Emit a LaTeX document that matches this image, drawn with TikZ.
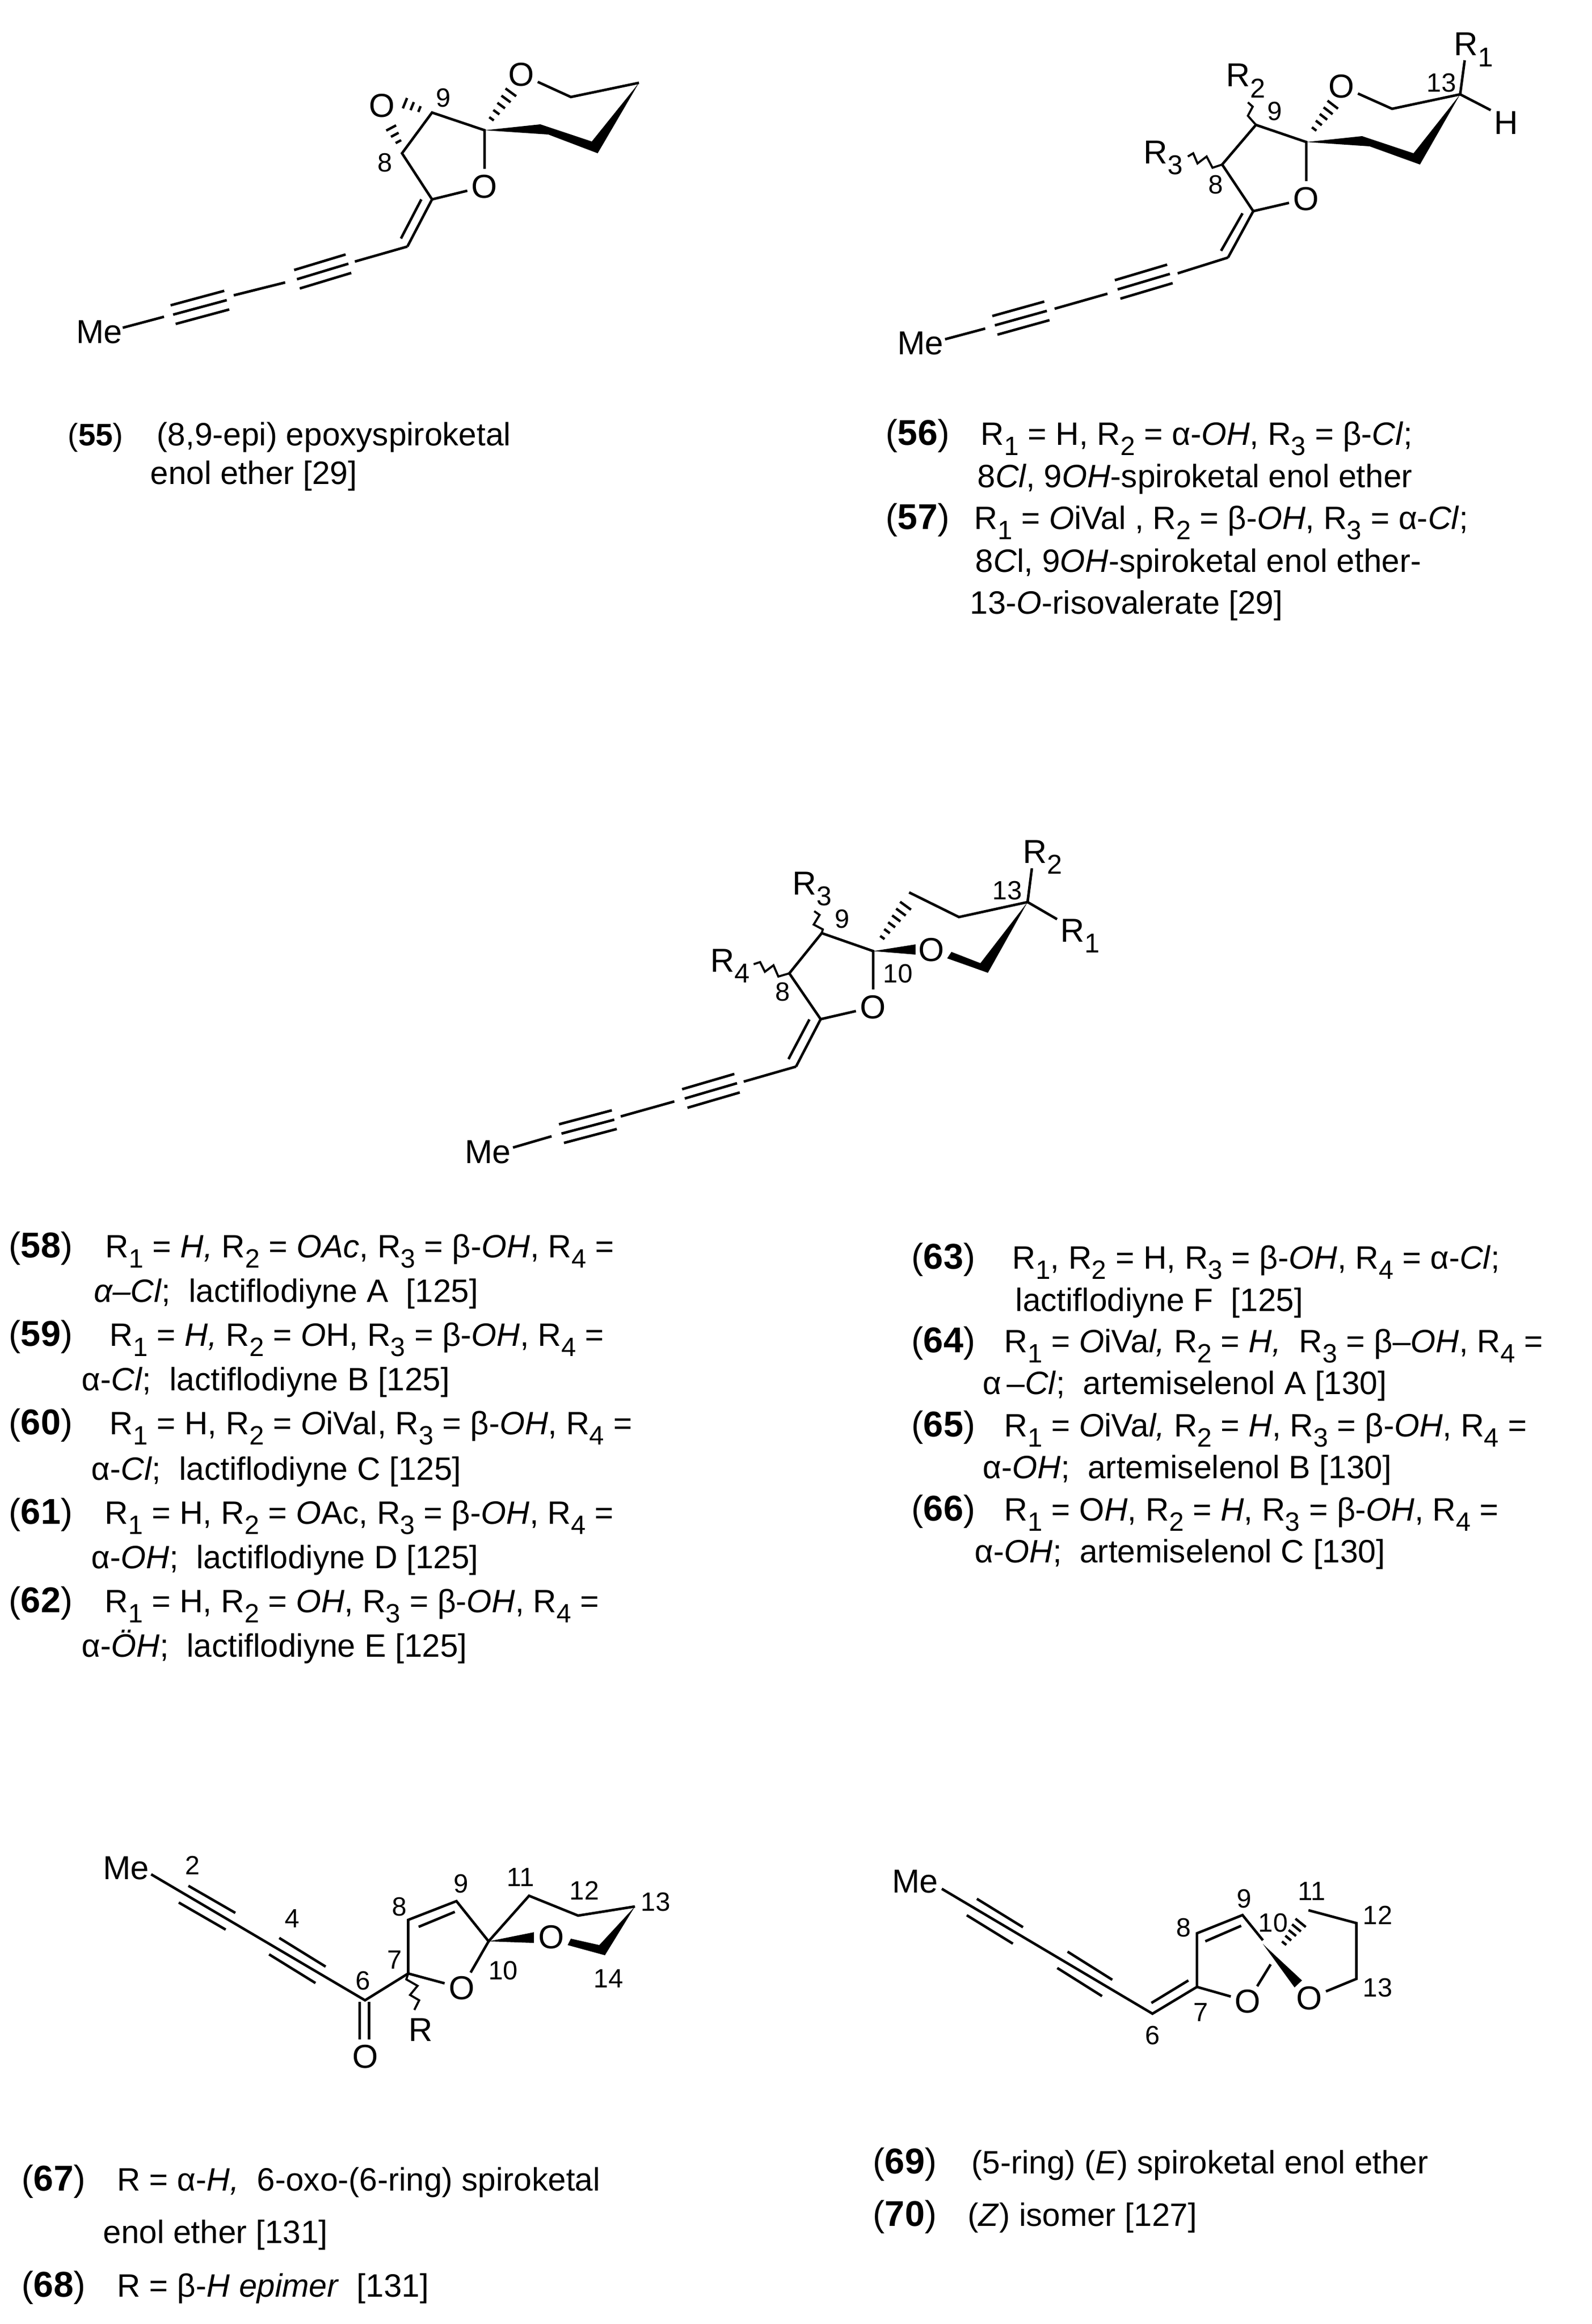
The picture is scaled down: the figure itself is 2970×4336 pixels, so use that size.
\documentclass[tikz,border=0pt]{standalone}
\usepackage{fontspec}
\setmainfont{Liberation Sans}
\usetikzlibrary{calc}
\makeatletter
\newcommand\sbs[1]{\raisebox{-.33em}{\fontsize{\the\dimexpr.82\dimexpr\f@size pt\relax\relax}{0pt}\selectfont #1}}
\makeatother
\newcommand\ii[1]{\textit{#1}}
\tikzset{
  x=0.01cm,y=-0.01cm,
  bond/.style={line width=1.35pt,black},
  hashline/.style={line width=1.3pt,black},
  solid fill/.style={fill=black,draw=none},
  atom/.style={circle,inner sep=0pt,font=\fontsize{17.6}{20}\selectfont},
  glabel/.style={inner sep=0pt,font=\fontsize{17.6}{20}\selectfont},
  rlabel/.style={inner sep=0pt,anchor=base west,font=\fontsize{17.6}{20}\selectfont},
  numlabel/.style={inner sep=0pt,font=\fontsize{14}{16}\selectfont},
  captiontext/.style={inner sep=0pt,anchor=base west,font=\fontsize{17.15}{20}\selectfont},
  captionlabel/.style={inner sep=0pt,anchor=base west,font=\fontsize{19}{22}\selectfont},
  captionsmall/.style={inner sep=0pt,anchor=base west,font=\fontsize{16.5}{20}\selectfont},
}
% triple bond with a central line
\newcommand\tbond[2]{\draw[bond] (#1)--(#2) ($(#1)!.18cm!90:(#2)$)--($(#2)!.18cm!-90:(#1)$) ($(#1)!.18cm!-90:(#2)$)--($(#2)!.18cm!90:(#1)$);}
% the two outer lines only
\newcommand\obond[2]{\draw[bond] ($(#1)!.18cm!90:(#2)$)--($(#2)!.18cm!-90:(#1)$) ($(#1)!.18cm!-90:(#2)$)--($(#2)!.18cm!90:(#1)$);}
% hashed wedge: from, to, strokes, half width at the far end (pt)
\newcommand\hashb[4]{\foreach \i in {1,...,#3}{\pgfmathsetmacro\tfrac{\i/#3}\pgfmathsetmacro\wfrac{1+\tfrac*#4}\coordinate (hh) at ($(#1)!\tfrac!(#2)$);\draw[hashline] ($(hh)!\wfrac pt!90:(#2)$) -- ($(hh)!\wfrac pt!-90:(#2)$);}}
\begin{document}
\begin{tikzpicture}
\useasboundingbox (0,0) rectangle (2970,4336);
\fill[white] (0,0) rectangle (2970,4336);

%%%%%%%%%% 55
\coordinate (a-me) at (229,611.5);\coordinate (a-b0) at (306,591);
\coordinate (a-t1a) at (323,587);\coordinate (a-t1b) at (423,560);
\coordinate (a-b1) at (436,551);\coordinate (a-b2) at (532,527);
\coordinate (a-t2a) at (554,521);\coordinate (a-t2b) at (650,492);
\coordinate (a-b3) at (662,488);\coordinate (a-c6) at (760,460);
\coordinate (a-c7) at (806,372);\coordinate (a-i1) at (748,445);\coordinate (a-i2) at (786,372);
\coordinate (a-c8) at (750,286);\coordinate (a-c9) at (806,210);\coordinate (a-c10) at (904,243);
\coordinate (a-r1) at (1065,181);\coordinate (a-r2) at (1192,154.5);
\node[glabel] (a-metxt) at (185,620) {Me};
\node[atom] (a-o1) at (904,348) {O};
\node[atom] (a-oe) at (713,197) {O};
\node[atom] (a-o2) at (973,139) {O};
\node[numlabel] (a-n9) at (827,183) {9};
\node[numlabel] (a-n8) at (718,304) {8};
\draw[bond] (a-me)--(a-b0) (a-b1)--(a-b2) (a-b3)--(a-c6);
\tbond{a-t1a}{a-t1b}\tbond{a-t2a}{a-t2b}
\draw[bond] (a-c6)--(a-c7) (a-i1)--(a-i2);
\draw[bond] (a-o1)--(a-c7)--(a-c8)--(a-c9)--(a-c10)--(a-o1);
\draw[bond] (a-o2)--(a-r1)--(a-r2);
\coordinate (a-h1) at (750,277);\coordinate (a-h2) at (723,226);
\coordinate (a-h3) at (796,209);\coordinate (a-h4) at (742,187);
\coordinate (a-h5) at (908,234);\coordinate (a-h6) at (962,160);
\hashb{a-h1}{a-h2}{4}{2.6}\hashb{a-h3}{a-h4}{4}{2.6}\hashb{a-h5}{a-h6}{6}{3}
\fill[solid fill] (a-c10) -- (1008,232) -- (1104,264) -- (a-r2) -- (1115,286) -- (1023,251) -- cycle;

%%%%%%%%%% 56
\coordinate (b-me) at (1763,633);\coordinate (b-b0) at (1838,613);
\coordinate (b-t1a) at (1856,607);\coordinate (b-t1b) at (1953,580);
\coordinate (b-b1) at (1967.5,576);\coordinate (b-b2) at (2066,548);
\coordinate (b-t2a) at (2085,540);\coordinate (b-t2b) at (2182.5,511);
\coordinate (b-b3) at (2197,510);\coordinate (b-c6) at (2291,480.5);
\coordinate (b-c7) at (2338,394);\coordinate (b-i1) at (2278,468);\coordinate (b-i2) at (2318,398);
\coordinate (b-c8) at (2280,307);\coordinate (b-c9) at (2343,233);\coordinate (b-c10) at (2437,265);
\coordinate (b-r1) at (2597,203);\coordinate (b-c13) at (2724,176);
\coordinate (b-r1e) at (2732.5,112.5);\coordinate (b-he) at (2781,205.5);
\node[glabel] (b-metxt) at (1717,641) {Me};
\node[atom] (b-o1) at (2437,371) {O};
\node[atom] (b-o2) at (2503,161) {O};
\node[rlabel] (b-R1) at (2712,104) {R\sbs{1}};
\node[rlabel] (b-R2) at (2287,162) {R\sbs{2}};
\node[rlabel] (b-R3) at (2133,305) {R\sbs{3}};
\node[glabel] (b-H) at (2810,229) {H};
\node[numlabel] (b-n13) at (2689,155) {13};
\node[numlabel] (b-n9) at (2378,208) {9};
\node[numlabel] (b-n8) at (2268,345) {8};
\draw[bond] (b-me)--(b-b0) (b-b1)--(b-b2) (b-b3)--(b-c6);
\tbond{b-t1a}{b-t1b}\tbond{b-t2a}{b-t2b}
\draw[bond] (b-c6)--(b-c7) (b-i1)--(b-i2);
\draw[bond] (b-o1)--(b-c7)--(b-c8)--(b-c9)--(b-c10)--(b-o1);
\draw[bond] (b-o2)--(b-r1)--(b-c13);
\draw[bond] (b-c13)--(b-r1e) (b-c13)--(b-he);
\draw[bond,line width=1.1pt] (b-c9)--(2328,216)--(2337,199)--(2328,191);
\draw[bond,line width=1.1pt] (b-c8)--(2262,313)--(2251,292)--(2234,305)--(2226,286)--(2216,292);
\coordinate (b-h5) at (2443,252);\coordinate (b-h6) at (2495,184);
\hashb{b-h5}{b-h6}{6}{3}
\fill[solid fill] (b-c10) -- (2541,254) -- (2637,286) -- (b-c13) -- (2649,307) -- (2555,273) -- cycle;

%%%%%%%%%% 58
\coordinate (c-me) at (957,2141);\coordinate (c-b0) at (1029,2120);
\coordinate (c-t1a) at (1047.5,2115);\coordinate (c-t1b) at (1146,2089);
\coordinate (c-b1) at (1158,2083);\coordinate (c-b2) at (1258,2055);
\coordinate (c-t2a) at (1277.5,2049.5);\coordinate (c-t2b) at (1375,2021);
\coordinate (c-b3) at (1387.5,2018);\coordinate (c-c6) at (1485,1990);
\coordinate (c-c7) at (1531,1901.5);\coordinate (c-i1) at (1471,1976);\coordinate (c-i2) at (1510,1902);
\coordinate (c-c8) at (1472.5,1816);\coordinate (c-c9) at (1533,1741);\coordinate (c-c10) at (1629,1774.5);
\coordinate (c-c11) at (1696,1665);\coordinate (c-c12) at (1789,1711);\coordinate (c-c13) at (1917,1683);
\coordinate (c-r2e) at (1925,1620);\coordinate (c-r1e) at (1972,1715);
\node[glabel] (c-metxt) at (910,2149) {Me};
\node[atom] (c-o1) at (1629,1879) {O};
\node[atom] (c-o2) at (1737.5,1772) {O};
\node[rlabel] (c-R2) at (1908,1610) {R\sbs{2}};
\node[rlabel] (c-R1) at (1978,1757) {R\sbs{1}};
\node[rlabel] (c-R3) at (1478,1669) {R\sbs{3}};
\node[rlabel] (c-R4) at (1325,1813) {R\sbs{4}};
\node[numlabel] (c-n13) at (1879,1662) {13};
\node[numlabel] (c-n9) at (1571,1715) {9};
\node[numlabel] (c-n10) at (1675,1817) {10};
\node[numlabel] (c-n8) at (1460,1851) {8};
\draw[bond] (c-me)--(c-b0) (c-b1)--(c-b2) (c-b3)--(c-c6);
\tbond{c-t1a}{c-t1b}\tbond{c-t2a}{c-t2b}
\draw[bond] (c-c6)--(c-c7) (c-i1)--(c-i2);
\draw[bond] (c-o1)--(c-c7)--(c-c8)--(c-c9)--(c-c10)--(c-o1);
\draw[bond] (c-c11)--(c-c12)--(c-c13);
\draw[bond] (c-c13)--(c-r2e) (c-c13)--(c-r1e);
\draw[bond,line width=1.1pt] (c-c9)--(1535,1734)--(1518,1725)--(1529,1707)--(1519,1700);
\draw[bond,line width=1.1pt] (c-c8)--(1452,1822)--(1443,1801)--(1427,1813)--(1418,1795)--(1406,1799);
\coordinate (c-h5) at (1637.5,1761);\coordinate (c-h6) at (1698,1678);
\hashb{c-h5}{c-h6}{7}{3}
\fill[solid fill] (c-c10) -- (1708,1762) -- (1708,1781) -- cycle;
\fill[solid fill] (1775,1776) -- (1829,1797) -- (c-c13) -- (1843,1815) -- (1767,1788) -- cycle;

%%%%%%%%%% 67
\coordinate (d-me) at (282,3497);\coordinate (d-c6) at (681,3732);
\coordinate (d-t1a) at (342.5,3534);\coordinate (d-t1b) at (430,3584.5);
\coordinate (d-t2a) at (511.5,3631);\coordinate (d-t2b) at (598,3684.5);
\coordinate (d-c7) at (761.5,3682);\coordinate (d-c8) at (761.5,3582);\coordinate (d-c9) at (851.5,3547);
\coordinate (d-i1) at (781,3595);\coordinate (d-i2) at (848.5,3567);
\coordinate (d-c10) at (911.5,3622);\coordinate (d-c11) at (987,3537);\coordinate (d-c12) at (1078.5,3574);\coordinate (d-c13) at (1184.5,3557);
\coordinate (d-e1) at (671,3735);\coordinate (d-e2) at (671,3805);\coordinate (d-e3) at (688.5,3735);\coordinate (d-e4) at (688.5,3805);
\node[glabel] (d-metxt) at (235,3485) {Me};
\node[atom] (d-o1) at (861.5,3709) {O};
\node[atom] (d-o2) at (1028.5,3614) {O};
\node[atom] (d-o3) at (682,3837) {O};
\node[glabel] (d-R) at (785,3787) {R};
\node[numlabel] (d-n2) at (359,3480) {2};
\node[numlabel] (d-n4) at (545,3580) {4};
\node[numlabel] (d-n6) at (677,3696) {6};
\node[numlabel] (d-n7) at (736,3657) {7};
\node[numlabel] (d-n8) at (745,3558) {8};
\node[numlabel] (d-n9) at (860,3515) {9};
\node[numlabel] (d-n11) at (971.5,3503) {11};
\node[numlabel] (d-n12) at (1090,3527) {12};
\node[numlabel] (d-n13) at (1223,3549) {13};
\node[numlabel] (d-n10) at (938.5,3677) {10};
\node[numlabel] (d-n14) at (1135,3692) {14};
\draw[bond] (d-me)--(d-c6)--(d-c7)--(d-c8)--(d-c9)--(d-c10)--(d-c11)--(d-c12)--(d-c13);
\obond{d-t1a}{d-t1b}\obond{d-t2a}{d-t2b}
\draw[bond] (d-i1)--(d-i2) (d-c7)--(d-o1) (d-c10)--(d-o1) (d-e1)--(d-e2) (d-e3)--(d-e4);
\draw[bond,line width=1.1pt] (d-c7)--(758,3693)--(779,3705)--(765,3722)--(782,3732)--(773,3750);
\fill[solid fill] (d-c10) -- (996,3605) -- (996,3625) -- cycle;
\fill[solid fill] (1065,3617) -- (1118,3629) -- (d-c13) -- (1128.5,3648) -- (1059,3629) -- cycle;

%%%%%%%%%% 69
\coordinate (e-me) at (1757,3524);\coordinate (e-c6) at (2150,3757);
\coordinate (e-t1a) at (1813,3558);\coordinate (e-t1b) at (1899,3611);
\coordinate (e-t2a) at (1982,3656.5);\coordinate (e-t2b) at (2065.5,3709);
\coordinate (e-c7) at (2233,3707);\coordinate (e-c8) at (2233,3607);\coordinate (e-c9) at (2318,3573);
\coordinate (e-i1) at (2148,3737);\coordinate (e-i2) at (2217,3695);
\coordinate (e-i3) at (2248.5,3622);\coordinate (e-i4) at (2315.5,3593);
\coordinate (e-c10) at (2356,3620);\coordinate (e-c10b) at (2370.5,3665);
\coordinate (e-c11) at (2441,3564);\coordinate (e-c12) at (2530.5,3588);\coordinate (e-c13) at (2530.5,3692);
\node[glabel] (e-metxt) at (1707,3510) {Me};
\node[atom] (e-o1) at (2328,3734) {O};
\node[atom] (e-o2) at (2443,3728) {O};
\node[numlabel] (e-n6) at (2150,3798) {6};
\node[numlabel] (e-n7) at (2240,3755) {7};
\node[numlabel] (e-n8) at (2208,3597) {8};
\node[numlabel] (e-n9) at (2321,3543) {9};
\node[numlabel] (e-n10) at (2375,3588) {10};
\node[numlabel] (e-n11) at (2447,3529) {11};
\node[numlabel] (e-n12) at (2570,3573) {12};
\node[numlabel] (e-n13) at (2570,3709) {13};
\draw[bond] (e-me)--(e-c6)--(e-c7)--(e-c8)--(e-c9)--(e-c10);
\obond{e-t1a}{e-t1b}\obond{e-t2a}{e-t2b}
\draw[bond] (e-i1)--(e-i2) (e-i3)--(e-i4) (e-c7)--(e-o1) (e-c10b)--(e-o1);
\draw[bond] (e-c11)--(e-c12)--(e-c13)--(e-o2);
\coordinate (e-h5) at (2388,3635);\coordinate (e-h6) at (2434,3578);
\hashb{e-h5}{e-h6}{6}{3}
\fill[solid fill] (2356,3627) -- (2429,3695) -- (2415,3708) -- cycle;

%%%%%%%%%% captions
\node[captionsmall] (l55) at (126,831) {(\textbf{55})};
\node[captiontext] (t55a) at (292,831) {(8,9-epi) epoxyspiroketal};
\node[captiontext] (t55b) at (280,903) {enol ether [29]};

\node[captionlabel] (l56) at (1652,830) {(\textbf{56})};
\node[captiontext] (t56a) at (1829,830) {R\sbs{1} = H, R\sbs{2} = α-\ii{OH}, R\sbs{3} = β-\ii{Cl};};
\node[captiontext] (t56b) at (1823,909) {8\ii{Cl}, 9\ii{OH}-spiroketal enol ether};
\node[captionlabel] (l57) at (1652,987) {(\textbf{57})};
\node[captiontext] (t57a) at (1817,987) {R\sbs{1} = \ii{O}iVal , R\sbs{2} = β-\ii{OH}, R\sbs{3} = α-\ii{Cl};};
\node[captiontext] (t57b) at (1819,1067) {8\ii{C}l, 9\ii{OH}-spiroketal enol ether-};
\node[captiontext] (t57c) at (1809,1145) {13-\ii{O}-risovalerate [29]};

\node[captionlabel] (l58) at (16,2346) {(\textbf{58})};
\node[captiontext] (t58a) at (196,2346) {R\sbs{1} = \ii{H,} R\sbs{2} = \ii{OAc}, R\sbs{3} = β-\ii{OH}, R\sbs{4} =};
\node[captiontext] (t58b) at (175,2429) {\ii{α–Cl};~~lactiflodiyne A~~[125]};
\node[captionlabel] (l59) at (16,2511) {(\textbf{59})};
\node[captiontext] (t59a) at (204,2511) {R\sbs{1} = \ii{H,} R\sbs{2} = \ii{O}H, R\sbs{3} = β-\ii{OH}, R\sbs{4} =};
\node[captiontext] (t59b) at (152,2594) {α-\ii{Cl};~~lactiflodiyne B [125]};
\node[captionlabel] (l60) at (16,2676) {(\textbf{60})};
\node[captiontext] (t60a) at (204,2676) {R\sbs{1} = H, R\sbs{2} = \ii{O}iVal, R\sbs{3} = β-\ii{OH}, R\sbs{4} =};
\node[captiontext] (t60b) at (170,2761) {α-\ii{Cl};~~lactiflodiyne C [125]};
\node[captionlabel] (l61) at (16,2843) {(\textbf{61})};
\node[captiontext] (t61a) at (195,2843) {R\sbs{1} = H, R\sbs{2} = \ii{O}Ac, R\sbs{3} = β-\ii{OH}, R\sbs{4} =};
\node[captiontext] (t61b) at (170,2926) {α-\ii{OH};~~lactiflodiyne D [125]};
\node[captionlabel] (l62) at (16,3008) {(\textbf{62})};
\node[captiontext] (t62a) at (195,3008) {R\sbs{1} = H, R\sbs{2} = \ii{OH}, R\sbs{3} = β-\ii{OH}, R\sbs{4} =};
\node[captiontext] (t62b) at (152,3091) {α-\ii{ÖH};~~lactiflodiyne E [125]};

\node[captionlabel] (l63) at (1700,2367) {(\textbf{63})};
\node[captiontext] (t63a) at (1888,2367) {R\sbs{1}, R\sbs{2} = H, R\sbs{3} = β-\ii{OH}, R\sbs{4} = α-\ii{Cl};};
\node[captiontext] (t63b) at (1894,2446) {lactiflodiyne F~~[125]};
\node[captionlabel] (l64) at (1700,2523) {(\textbf{64})};
\node[captiontext] (t64a) at (1873,2523) {R\sbs{1} = \ii{O}iVa\ii{l,} R\sbs{2} = \ii{H,}~~R\sbs{3} = β–\ii{OH}, R\sbs{4} =};
\node[captiontext] (t64b) at (1833,2601) {α\,–\ii{Cl};~~artemiselenol A [130]};
\node[captionlabel] (l65) at (1700,2680) {(\textbf{65})};
\node[captiontext] (t65a) at (1873,2680) {R\sbs{1} = \ii{O}iVa\ii{l,} R\sbs{2} = \ii{H}, R\sbs{3} = β-\ii{OH}, R\sbs{4} =};
\node[captiontext] (t65b) at (1833,2758) {α-\ii{OH};~~artemiselenol B [130]};
\node[captionlabel] (l66) at (1700,2837) {(\textbf{66})};
\node[captiontext] (t66a) at (1873,2837) {R\sbs{1} = O\ii{H}, R\sbs{2} = \ii{H}, R\sbs{3} = β-\ii{OH}, R\sbs{4} =};
\node[captiontext] (t66b) at (1818,2915) {α-\ii{OH};~~artemiselenol C [130]};

\node[captionlabel] (l67) at (40,4087) {(\textbf{67})};
\node[captiontext] (t67a) at (218,4087) {R = α-\ii{H,}~~6-oxo-(6-ring) spiroketal};
\node[captiontext] (t67b) at (192,4185) {enol ether [131]};
\node[captionlabel] (l68) at (40,4285) {(\textbf{68})};
\node[captiontext] (t68a) at (218,4285) {R = β-\ii{H epimer}~~[131]};

\node[captionlabel] (l69) at (1628,4055) {(\textbf{69})};
\node[captiontext] (t69a) at (1812,4055) {(5-ring) (\ii{E}) spiroketal enol ether};
\node[captionlabel] (l70) at (1628,4153) {(\textbf{70})};
\node[captiontext] (t70a) at (1805,4153) {(\ii{Z}) isomer [127]};
\end{tikzpicture}
\end{document}
